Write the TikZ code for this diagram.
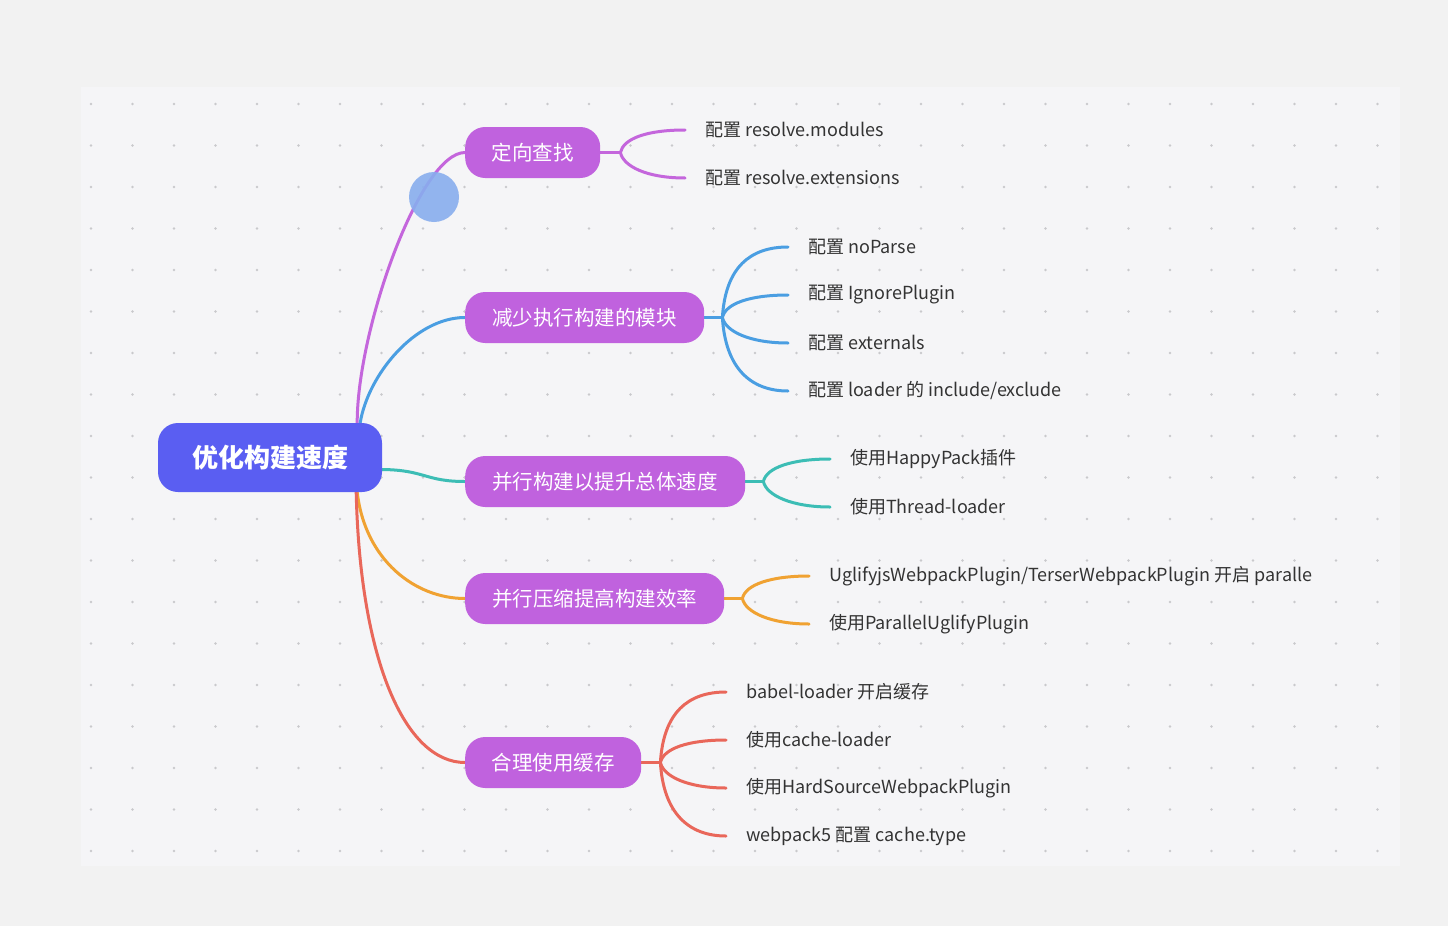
\documentclass[tikz,border=0pt]{standalone}
\usepackage{fontspec}
\setmainfont{Noto Sans CJK SC}
\usetikzlibrary{calc}
\pgfdeclarelayer{back}
\pgfdeclarelayer{lines}
\pgfsetlayers{back,lines,main}
\definecolor{outerbg}{HTML}{F2F2F2}
\definecolor{panel}{HTML}{F5F5F7}
\definecolor{dotc}{HTML}{C9C9CC}
\definecolor{rootc}{HTML}{5A5EF2}
\definecolor{branchc}{HTML}{C062DE}
\definecolor{lpurple}{HTML}{C466DC}
\definecolor{lblue}{HTML}{4A9EE2}
\definecolor{lteal}{HTML}{3CBDB5}
\definecolor{lorange}{HTML}{F0A232}
\definecolor{lred}{HTML}{E9675A}
\definecolor{txt}{HTML}{333333}
\definecolor{cursorc}{HTML}{88AEEE}
\begin{document}
\begin{tikzpicture}[x=1pt,y=-1pt,
 rootbox/.style={fill=rootc, rounded corners=20pt, minimum width=224pt, minimum height=69pt, text=white, font=\fontsize{26}{30}\selectfont\bfseries, inner sep=0pt},
 branchbox/.style={fill=branchc, rounded corners=20pt, minimum height=51pt, text=white, font=\fontsize{20.5}{24}\selectfont, inner sep=0pt, anchor=west},
 leaf/.style={anchor=west, text=txt, font=\fontsize{18}{22}\selectfont, inner sep=0pt},
 conn/.style={line width=3pt, line cap=round},
 fork/.style={conn, to path={.. controls ($(\tikztostart)+(3,#1)$) and ($(\tikztotarget)+(-38,0)$) .. (\tikztotarget)}},
]
\useasboundingbox (0,0) rectangle (1448,926);
\begin{pgfonlayer}{back}
\fill[outerbg] (0,0) rectangle (1448,926);
\fill[panel] (81,87) rectangle (1400,866);
\foreach \i in {0,...,31} \foreach \j in {0,...,18} \fill[dotc] (91+41.5*\i,104+41.5*\j) circle (1.3pt);
\end{pgfonlayer}

% nodes
\node[rootbox] (root) at (270,457.5) {优化构建速度};
\node[branchbox, minimum width=135pt] (b1) at (465,152.5) {定向查找};
\node[branchbox, minimum width=239pt] (b2) at (465,317.5) {减少执行构建的模块};
\node[branchbox, minimum width=280pt] (b3) at (465,481.5) {并行构建以提升总体速度};
\node[branchbox, minimum width=259pt] (b4) at (465,598.5) {并行压缩提高构建效率};
\node[branchbox, minimum width=176pt] (b5) at (465,762.5) {合理使用缓存};

\node[leaf] (c11) at (705,130) {配置 resolve.modules};
\node[leaf] (c12) at (705,178) {配置 resolve.extensions};
\node[leaf] (c21) at (808,247) {配置 noParse};
\node[leaf] (c22) at (808,295) {配置 IgnorePlugin};
\node[leaf] (c23) at (808,343) {配置 externals};
\node[leaf] (c24) at (808,391) {配置 loader 的 include/exclude};
\node[leaf] (c31) at (850,459) {使用HappyPack插件};
\node[leaf] (c32) at (850,507) {使用Thread-loader};
\node[leaf] (c41) at (829,576) {UglifyjsWebpackPlugin/TerserWebpackPlugin 开启 paralle};
\node[leaf] (c42) at (829,624) {使用ParallelUglifyPlugin};
\node[leaf] (c51) at (746,692) {babel-loader 开启缓存};
\node[leaf] (c52) at (746,740) {使用cache-loader};
\node[leaf] (c53) at (746,788) {使用HardSourceWebpackPlugin};
\node[leaf] (c54) at (746,836) {webpack5 配置 cache.type};

\begin{pgfonlayer}{lines}
% root connectors
\draw[conn, lpurple] ([xshift=-25pt]root.north east) .. controls (357,330) and (420,152.5) .. (b1.west);
\draw[conn, lblue] ([xshift=-22pt]root.north east) .. controls (368,375) and (415,317.5) .. (b2.west);
\draw[conn, lteal] ([yshift=-12pt]root.east) .. controls (425,470) and (425,481.5) .. (b3.west);
\draw[conn, lorange] ([xshift=-25pt]root.south east) .. controls (365,560) and (415,598.5) .. (b4.west);
\draw[conn, lred] ([xshift=-26pt]root.south east) .. controls (360,660) and (405,762.5) .. (b5.west);

% forks
\draw[conn, lpurple] (b1.east) -- ++(20,0) coordinate (f1);
\draw[fork=-14, lpurple] (f1) to ([xshift=-20pt]c11.west);
\draw[fork=14, lpurple] (f1) to ([xshift=-20pt]c12.west);

\draw[conn, lblue] (b2.east) -- ++(18,0) coordinate (f2);
\draw[fork=-50, lblue] (f2) to ([xshift=-20pt]c21.west);
\draw[fork=-14, lblue] (f2) to ([xshift=-20pt]c22.west);
\draw[fork=14, lblue] (f2) to ([xshift=-20pt]c23.west);
\draw[fork=50, lblue] (f2) to ([xshift=-20pt]c24.west);

\draw[conn, lteal] (b3.east) -- ++(18,0) coordinate (f3);
\draw[fork=-14, lteal] (f3) to ([xshift=-20pt]c31.west);
\draw[fork=14, lteal] (f3) to ([xshift=-20pt]c32.west);

\draw[conn, lorange] (b4.east) -- ++(18,0) coordinate (f4);
\draw[fork=-14, lorange] (f4) to ([xshift=-20pt]c41.west);
\draw[fork=14, lorange] (f4) to ([xshift=-20pt]c42.west);

\draw[conn, lred] (b5.east) -- ++(19,0) coordinate (f5);
\draw[fork=-50, lred] (f5) to ([xshift=-20pt]c51.west);
\draw[fork=-14, lred] (f5) to ([xshift=-20pt]c52.west);
\draw[fork=14, lred] (f5) to ([xshift=-20pt]c53.west);
\draw[fork=50, lred] (f5) to ([xshift=-20pt]c54.west);
\end{pgfonlayer}

\fill[cursorc, opacity=0.9] (434,197) circle (25pt);
\end{tikzpicture}
\end{document}
